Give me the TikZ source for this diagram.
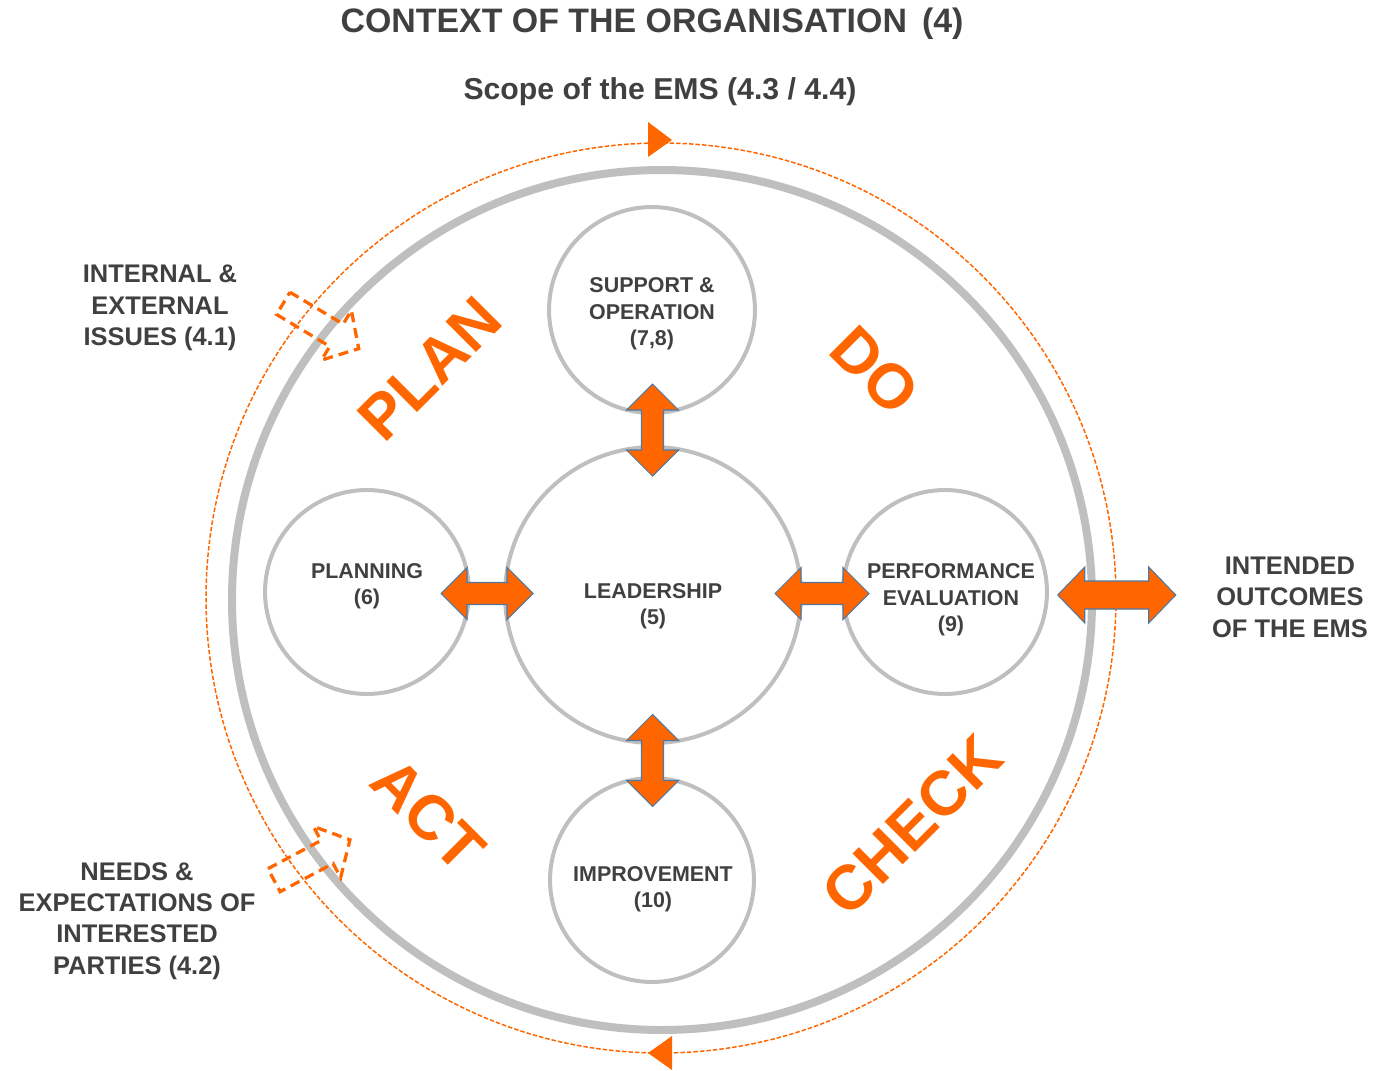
\documentclass[tikz,border=0pt]{standalone}
\usepackage{fontspec}
\setmainfont{Liberation Sans}
\usetikzlibrary{calc}
\definecolor{ora}{RGB}{255,102,0}
\definecolor{ringgrey}{RGB}{191,191,191}
\definecolor{txt}{RGB}{64,64,64}
\definecolor{edgeblue}{RGB}{80,120,160}
% center, angle, half length, shaft half width, head half width, head length
\newcommand\dblarr[6]{%
  \begin{scope}[shift={#1}, rotate=#2]
    \filldraw[blockarrow] (-#3,0) -- (-#3+#6,-#5) -- (-#3+#6,-#4) -- (#3-#6,-#4) -- (#3-#6,-#5) -- (#3,0)
      -- (#3-#6,#5) -- (#3-#6,#4) -- (-#3+#6,#4) -- (-#3+#6,#5) -- cycle;
  \end{scope}}
\newcommand\hollowarr[6]{%
  \begin{scope}[shift={#1}, rotate=#2]
    \draw[hollowarrow] (-#3,-#4) -- (#3-#6,-#4) -- (#3-#6,-#5) -- (#3,0) -- (#3-#6,#5) -- (#3-#6,#4) -- (-#3,#4) -- cycle;
  \end{scope}}
\begin{document}
\begin{tikzpicture}[x=0.02cm,y=-0.02cm,
  circ/.style={circle, draw=ringgrey, line width=0.08cm, minimum size=#1*0.04cm, inner sep=0pt},
  circtext/.style={align=center, font=\fontsize{12.2}{15}\selectfont\bfseries, text=txt, inner sep=0pt},
  blockarrow/.style={fill=ora, draw=edgeblue, line width=0.6pt, line join=miter},
  hollowarrow/.style={draw=ora, line width=0.065cm, dash pattern=on 0.2cm off 0.12cm},
  sidetext/.style={align=center, font=\fontsize{14.5}{17.9}\selectfont\bfseries, text=txt},
  bigword/.style={font=\fontsize{35.7}{40}\selectfont\bfseries, text=ora, inner sep=0pt},
  headtri/.style={fill=ora}
]
\useasboundingbox (0,0) rectangle (1376,1071);

% titles
\node[font=\fontsize{19.3}{22}\selectfont\bfseries, text=txt] (title) at (652,24) {CONTEXT OF THE ORGANISATION \,(4)};
\node[font=\fontsize{17.2}{20}\selectfont\bfseries, text=txt] (scope) at (660,92) {Scope of the EMS (4.3 / 4.4)};

% dashed orange circle and grey ring
\node[circle, draw=ora, line width=0.03cm, dash pattern=on 0.09cm off 0.04cm, minimum size=910*0.02cm, inner sep=0pt] (dashring) at (661,598) {};
\node[circle, draw=ringgrey, line width=0.16cm, minimum size=860*0.02cm, inner sep=0pt] (ring) at (662,600) {};

% arrowheads on dashed circle
\coordinate (dtop) at (660,140);
\coordinate (dbot) at (660,1053);
\fill[headtri] ($(dtop)+(-12,-18)$) -- ($(dtop)+(12,0)$) -- ($(dtop)+(-12,17)$) -- cycle;
\fill[headtri] ($(dbot)+(12,-17)$) -- ($(dbot)+(-12,0)$) -- ($(dbot)+(12,17)$) -- cycle;

% circles
\node[circ=103] (sup) at (652,310) {};
\node[circ=102] (plan) at (367,592) {};
\node[circ=148] (lead) at (653,595) {};
\node[circ=102] (perf) at (945,592) {};
\node[circ=102] (imp) at (652,880) {};

% circle texts
\node[circtext] (tsup) at ($(sup.center)+(0,4)$) {SUPPORT \&\\OPERATION\\(7,8)};
\node[circtext] (tplan) at ($(plan.center)+(0,-6)$) {PLANNING\\(6)};
\node[circtext] (tlead) at ($(lead.center)+(0,11)$) {LEADERSHIP\\(5)};
\node[circtext] (tperf) at ($(perf.center)+(6,8)$) {PERFORMANCE\\EVALUATION\\(9)};
\node[circtext] (timp) at ($(imp.center)+(1,9)$) {IMPROVEMENT\\(10)};

% double block arrows
\dblarr{($(sup.south)!0.5!(lead.north)$)}{90}{46}{11}{26}{26}
\dblarr{($(plan.east)!0.5!(lead.west)$)}{0}{46}{11}{26}{26}
\dblarr{($(lead.east)!0.5!(perf.west)$)}{0}{47}{11}{26}{26}
\dblarr{($(lead.south)!0.5!(imp.north)$)}{90}{46}{11}{26}{26}
\dblarr{($(dashring.east)+(0,-3)$)}{0}{59}{14}{28}{27}

% big words
\node[bigword, rotate=45] (wplan) at (430,369) {PLAN};
\node[bigword, rotate=-45] (wdo) at (875,370) {DO};
\node[bigword, rotate=45] (wcheck) at (912,825) {CHECK};
\node[bigword, rotate=-45] (wact) at (428,815) {ACT};

% hollow dashed arrows
\hollowarr{(321,326)}{-31}{44}{13}{29}{26}
\hollowarr{(312,860)}{28}{43}{13}{29}{26}

% side texts
\node[sidetext] (issues) at (160,308) {INTERNAL \&\\EXTERNAL\\ISSUES (4.1)};
\node[sidetext] (needs) at (137,921) {NEEDS \&\\EXPECTATIONS OF\\INTERESTED\\PARTIES (4.2)};
\node[sidetext] (outcomes) at (1290,597) {INTENDED\\OUTCOMES\\OF THE EMS};
\end{tikzpicture}
\end{document}
